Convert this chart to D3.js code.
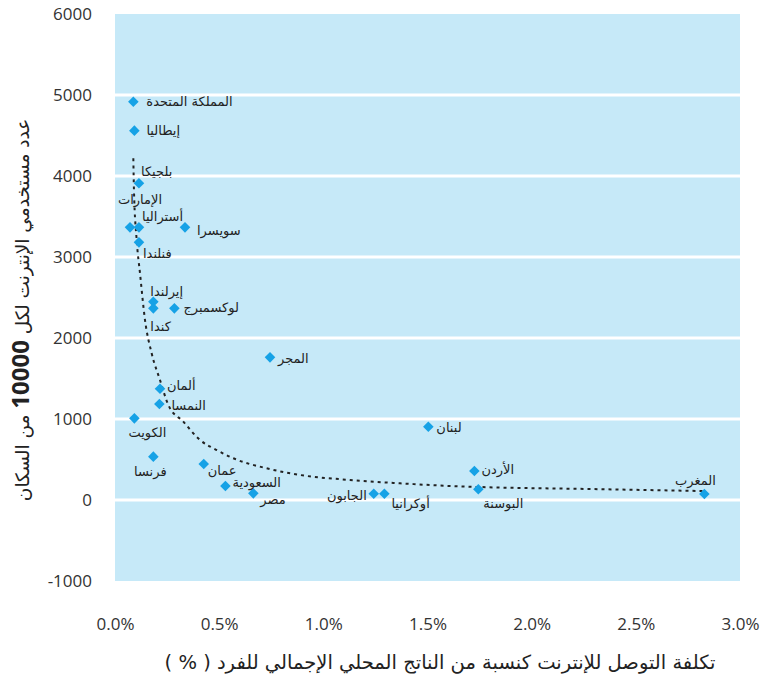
<!DOCTYPE html>
<html>
<head>
<meta charset="utf-8">
<script src="https://cdn.jsdelivr.net/npm/d3@7"></script>
<style>
  body { margin: 0; background: #fff; }
  text { font-family: "DejaVu Sans", sans-serif; }
  .tick-label { font-family: "Open Sans", "DejaVu Sans", sans-serif; font-size: 17px; fill: #333; }
  .pt-label { font-size: 13px; fill: #222; }
</style>
</head>
<body>
<div id="chart"></div>
<script>
// Data
const countries = ["المملكة المتحدة", "إيطاليا", "بلجيكا", "الإمارات", "أستراليا", "سويسرا",
  "فنلندا", "إيرلندا", "كندا", "لوكسمبرج", "المجر", "ألمان", "النمسا", "الكويت", "فرنسا",
  "عمان", "السعودية", "مصر", "لبنان", "الأردن", "البوسنة", "المغرب", "الجابون", "أوكرانيا"]
const costPct = [0.088, 0.093, 0.115, 0.072, 0.115, 0.336, 0.115, 0.184, 0.184, 0.285, 0.744,
  0.216, 0.213, 0.093, 0.184, 0.426, 0.53, 0.664, 1.504, 1.725, 1.744, 2.829, 1.242, 1.293]
const usersPer10k = [4917, 4560, 3910, 3366, 3366, 3366, 3181, 2448, 2366, 2366, 1761,
  1374, 1185, 1008, 535, 444, 173, 82, 905, 358, 132, 74, 78, 78]

// trend line
const trendX = [0.088, 0.091, 0.104, 0.12, 0.144, 0.176, 0.216, 0.256, 0.328, 0.408, 0.488,
  0.568, 0.728, 0.888, 1.128, 1.368, 1.608, 2.362, 2.822]
const trendY = [4219, 3827, 3210, 2799, 2222, 1811, 1481, 1173, 967, 741, 617,
  515, 391, 309, 247, 206, 173, 132, 111]

const xTicks = [0, 0.5, 1, 1.5, 2, 2.5, 3]
const yTicks = [-1000, 0, 1000, 2000, 3000, 4000, 5000, 6000]

const yTitle = ["عدد مستخدمي الإنترنت لكل ", "10000", " من السكان"]
const xTitle = "تكلفة التوصل للإنترنت كنسبة من الناتج المحلي الإجمالي للفرد ( % )"

// label placement: [dx, dy, anchor]
const labelPos = {
  "المملكة المتحدة": [13, 0, "start"], "إيطاليا": [12, 0, "start"], "بلجيكا": [2, -12, "start"],
  "الإمارات": [10, -28, "middle"], "أستراليا": [3, -11, "start"], "سويسرا": [12, 3, "start"],
  "فنلندا": [4, 11, "start"], "إيرلندا": [-3, -10, "start"], "كندا": [-3, 18, "start"],
  "لوكسمبرج": [9, -1, "start"], "المجر": [8, 1, "start"], "ألمان": [7, -3, "start"],
  "النمسا": [12, 1, "start"], "الكويت": [13, 14, "middle"], "فرنسا": [-3, 15, "middle"],
  "عمان": [4, 6, "start"], "السعودية": [7, -4, "start"], "مصر": [7, 6, "start"],
  "لبنان": [8, 1, "start"], "الأردن": [7, -2, "start"], "البوسنة": [5, 14, "start"],
  "المغرب": [-9, -14, "middle"], "الجابون": [-7, 2, "end"], "أوكرانيا": [7, 10, "start"]
}

const dataset = countries.map((c, i) => ({ name: c, x: costPct[i], y: usersPer10k[i] }))
const trend = trendX.map((x, i) => ({ x, y: trendY[i] }))

// Dimensions
let dimensions = {
  width: 761,
  height: 683,
  left: 115,
  right: 740,
  top: 14,
  bottom: 581
}

const svg = d3.select('#chart')
  .append("svg")
  .attr("width", dimensions.width)
  .attr("height", dimensions.height)

const xScale = d3.scaleLinear()
  .domain([0, 3])
  .range([dimensions.left, dimensions.right])

const yScale = d3.scaleLinear()
  .domain([-1000, 6000])
  .range([dimensions.bottom, dimensions.top])

// panel
svg.append("rect")
  .attr("x", dimensions.left)
  .attr("y", dimensions.top)
  .attr("width", dimensions.right - dimensions.left)
  .attr("height", dimensions.bottom - dimensions.top)
  .attr("fill", "#c6e9f8")

// grid
svg.append("g")
  .selectAll("line")
  .data(yTicks.slice(1, -1))
  .join("line")
  .attr("x1", dimensions.left)
  .attr("x2", dimensions.right)
  .attr("y1", d => yScale(d))
  .attr("y2", d => yScale(d))
  .attr("stroke", "#fff")
  .attr("stroke-width", 3)

// axes
const yAxis = d3.axisLeft(yScale).tickValues(yTicks).tickSize(0).tickPadding(0).tickFormat(d => String(d))
const yAxisGroup = svg.append("g")
  .attr("transform", `translate(92, 0)`)
  .call(yAxis)
yAxisGroup.select(".domain").remove()
yAxisGroup.selectAll("text")
  .attr("class", "tick-label")
  .attr("x", 0)
  .attr("dy", "0.35em")

const xAxis = d3.axisBottom(xScale).tickValues(xTicks).tickSize(0).tickPadding(0)
  .tickFormat(d => d3.format(".1f")(d) + "%")
const xAxisGroup = svg.append("g")
  .attr("transform", `translate(0, 624)`)
  .call(xAxis)
xAxisGroup.select(".domain").remove()
xAxisGroup.selectAll("text")
  .attr("class", "tick-label")
  .attr("y", 0)
  .attr("dy", "0.35em")

// trend line
const line = d3.line()
  .x(d => xScale(d.x))
  .y(d => yScale(d.y))
  .curve(d3.curveMonotoneX)

svg.append("path")
  .datum(trend)
  .attr("d", line)
  .attr("fill", "none")
  .attr("stroke", "#222")
  .attr("stroke-width", 2)
  .attr("stroke-dasharray", "3,4")

// points
const diamond = d3.symbol().type(d3.symbolSquare).size(56)
svg.append("g")
  .selectAll("path")
  .data(dataset)
  .join("path")
  .attr("d", diamond)
  .attr("transform", d => `translate(${xScale(d.x)}, ${yScale(d.y)}) rotate(45)`)
  .attr("fill", "#16a2e6")

svg.append("g")
  .selectAll("text")
  .data(dataset)
  .join("text")
  .attr("class", "pt-label")
  .attr("x", d => xScale(d.x) + labelPos[d.name][0])
  .attr("y", d => yScale(d.y) + labelPos[d.name][1])
  .attr("dy", "0.35em")
  .attr("text-anchor", d => labelPos[d.name][2])
  .text(d => d.name)

// titles
const yT = svg.append("text")
  .attr("transform", `translate(29, 310) rotate(-90)`)
  .attr("direction", "rtl")
  .attr("text-anchor", "middle")
  .attr("font-size", 18.5)
  .attr("fill", "#222")
yT.append("tspan").text(yTitle[0])
yT.append("tspan").attr("font-weight", "bold").attr("font-size", 24).attr("font-family", "Open Sans").text(yTitle[1])
yT.append("tspan").text(yTitle[2])

svg.append("text")
  .attr("x", 440)
  .attr("y", 669)
  .attr("direction", "rtl")
  .attr("text-anchor", "middle")
  .attr("font-size", 19.5)
  .attr("fill", "#222")
  .text(xTitle)
</script>
</body>
</html>
